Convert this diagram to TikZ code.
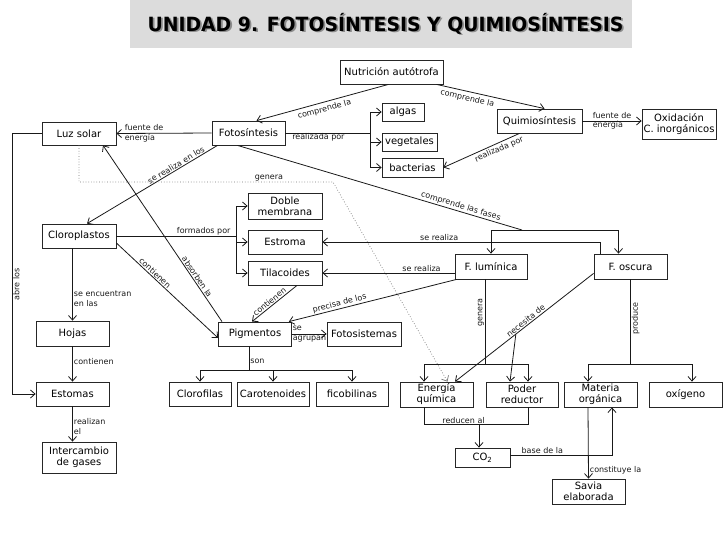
\documentclass[tikz,border=0pt]{standalone}
\usepackage{fontspec}
\setmainfont{DejaVu Sans}
\usetikzlibrary{arrows.meta,calc}
\definecolor{titlebg}{RGB}{220,220,220}
\begin{document}
\begin{tikzpicture}[x=1pt,y=-1pt,
  box/.style={draw=black!85,line width=0.8pt,inner sep=1pt,align=center,
    font=\fontsize{10}{11}\selectfont},
  lab/.style={font=\fontsize{8}{9.5}\selectfont,text=black!90,inner sep=1pt},
  conn/.style={line width=0.8pt,draw=black!90},
  arr/.style={conn,-{Straight Barb[length=4.5pt,width=8pt]}},
  dotc/.style={dotted,line width=0.7pt,draw=black!55,-{Straight Barb[length=4.5pt,width=8pt]}},
  titfont/.style={font=\fontsize{19.6}{21}\selectfont\bfseries,xscale=0.96,transform shape},
]
\useasboundingbox (0,0) rectangle (728,546);
\fill[titlebg] (130,0) rectangle (632,48);
\node[titfont,text=black!45] (titsh) at (387.3,25.3) {UNIDAD 9. FOTOSÍNTESIS Y QUIMIOSÍNTESIS};
\node[titfont,text=black] (tit) at (385.5,23.5) {UNIDAD 9. FOTOSÍNTESIS Y QUIMIOSÍNTESIS};

% boxes
\node[box,minimum width=103pt,minimum height=24pt] (nut) at (391.5,72) {Nutrición autótrofa};
\node[box,minimum width=42pt,minimum height=18pt] (algas) at (403,112) {algas};
\node[box,minimum width=55pt,minimum height=18pt] (veg) at (409.5,142) {vegetales};
\node[box,minimum width=61pt,minimum height=19pt] (bact) at (412.5,167.5) {bacterias};
\node[box,minimum width=73pt,minimum height=24pt] (foto) at (248.5,133) {Fotosíntesis};
\node[box,minimum width=74pt,minimum height=23pt] (luz) at (79,133.5) {Luz solar};
\node[box,minimum width=85pt,minimum height=24pt] (quim) at (539.5,121) {Quimiosíntesis};
\node[box,minimum width=74pt,minimum height=30pt] (oxi) at (679,124) {Oxidación\\C. inorgánicos};
\node[box,minimum width=74pt,minimum height=24pt] (cloro) at (79,236) {Cloroplastos};
\node[box,minimum width=73pt,minimum height=25pt] (hojas) at (72.5,333.5) {Hojas};
\node[box,minimum width=73pt,minimum height=24pt] (estom) at (72.5,394) {Estomas};
\node[box,minimum width=74pt,minimum height=31pt] (inter) at (79,457.5) {Intercambio\\de gases};
\node[box,minimum width=74pt,minimum height=26pt] (doble) at (285,206) {Doble\\membrana};
\node[box,minimum width=74pt,minimum height=24pt] (estroma) at (285,242) {Estroma};
\node[box,minimum width=74pt,minimum height=24pt] (tila) at (285,273) {Tilacoides};
\node[box,minimum width=73pt,minimum height=24pt] (pig) at (255,334) {Pigmentos};
\node[box,minimum width=74pt,minimum height=24pt] (fsis) at (364,334) {Fotosistemas};
\node[box,minimum width=72pt,minimum height=25pt] (flum) at (491,266.5) {F. lumínica};
\node[box,minimum width=73pt,minimum height=25pt] (fosc) at (630.5,266.5) {F. oscura};
\node[box,minimum width=62pt,minimum height=24pt] (clorof) at (200,394) {Clorofilas};
\node[box,minimum width=72pt,minimum height=24pt] (carot) at (273,394) {Carotenoides};
\node[box,minimum width=72pt,minimum height=24pt] (ficob) at (352,394) {ficobilinas};
\node[box,minimum width=73pt,minimum height=25pt] (energ) at (436.5,394.5) {Energía\\química};
\node[box,minimum width=72pt,minimum height=25pt] (poder) at (522,394.5) {Poder\\reductor};
\node[box,minimum width=73pt,minimum height=25pt] (mat) at (600.5,394.5) {Materia\\orgánica};
\node[box,minimum width=73pt,minimum height=25pt] (oxig) at (685.5,394.5) {oxígeno};
\node[box,minimum width=55pt,minimum height=19pt] (co2) at (482.5,457.5) {CO\textsubscript{2}};
\node[box,minimum width=73pt,minimum height=25pt] (savia) at (588.5,491.5) {Savia\\elaborada};

% connectors
\draw[arr] ([xshift=-3pt]nut.south) -- node[lab,sloped,below=2pt]{comprende la} ([xshift=8pt]foto.north);
\draw[arr] ([xshift=45pt]nut.south) -- node[lab,sloped,below=2pt,pos=0.3]{comprende la} ([xshift=5pt]quim.north);
\draw[arr] (foto.west) -- node[lab,align=left,anchor=west,pos=1,xshift=7pt]{fuente de\\energía} (luz.east);

\coordinate (rp) at (370,133);
\draw[conn] (foto.east) -- node[lab,below,pos=0.39,inner sep=0.5pt]{realizada por} (rp);
\draw[arr] (rp) |- (algas.west);
\draw[arr] (rp) |- (veg.west);
\draw[arr] (rp) |- (bact.west);

\draw[arr] (quim.east) -- node[lab,align=left,anchor=west,pos=0,xshift=9pt]{fuente de\\energía} (quim.east -| oxi.west);
\draw[arr] ([xshift=-20pt]quim.south) -- node[lab,sloped,below=1pt,pos=0.3]{realizada por} (bact.east);

\draw[arr] ([xshift=-31pt]foto.south) -- node[lab,sloped,above,pos=0.3]{se realiza en los} ([xshift=8pt]cloro.north);
\draw[arr] ([xshift=-33pt]pig.north) -- node[lab,sloped,above,pos=0.24]{absorben la} ([xshift=24pt]luz.south);
\draw[arr] ([yshift=-7pt]cloro.east) -- node[lab,sloped,above,pos=0.35]{contienen} ([yshift=-4pt]pig.west);

\coordinate (fp) at (236,236);
\draw[conn] (cloro.east) -- node[lab,above,pos=0.73,inner sep=0.5pt]{formados por} (fp);
\draw[arr] (fp) |- (doble.west);
\draw[arr] (fp) |- (estroma.west);
\draw[arr] (fp) |- (tila.west);

\draw[arr] ([xshift=-6.5pt]cloro.south) -- node[lab,align=left,right,pos=0.7]{se encuentran\\en las} (hojas.north);
\draw[arr] (hojas.south) -- node[lab,right,pos=0.44]{contienen} (estom.north);
\draw[arr] (estom.south) -- node[lab,right,align=left,pos=0.57]{realizan\\el} ([xshift=-6.5pt]inter.north);

\coordinate (abre) at (12,133.5);
\draw[arr] (luz.west) -- (abre) |- node[lab,rotate=90,anchor=north,pos=0.29]{abre los} (estom.west);

\coordinate (gen) at (333,182);
\draw[dotc] (luz.south) |- node[lab,above,pos=0.874,inner sep=0.5pt]{genera} (gen) -- ([xshift=11pt]energ.north);

\coordinate (cf) at (522,230);
\draw[conn] ([xshift=-11pt]foto.south) -- node[lab,sloped,above,pos=0.78]{comprende las fases} (cf);
\draw[arr] (cf) -| (flum.north);
\draw[arr] (cf) -| ([xshift=-12pt]fosc.north);

\draw[arr] ([xshift=-30pt]fosc.north) |- node[lab,above,pos=0.79,inner sep=0.5pt]{se realiza} (estroma.east);
\draw[arr] ([yshift=-6.5pt]flum.west) -- node[lab,above,pos=0.25,inner sep=0.5pt]{se realiza} (tila.east);
\draw[arr] ([xshift=2pt]flum.south west) -- node[lab,sloped,above,pos=0.69]{precisa de los} ([xshift=-3pt]pig.north east);
\draw[arr] ([xshift=12pt]tila.south) -- node[lab,sloped,above,pos=0.55]{contienen} ([xshift=-3pt]pig.north);
\draw[arr] (pig.east) -- node[lab,align=left,anchor=west,pos=0,inner sep=0.5pt]{se\\agrupan} (fsis.west);

\draw[conn] ([xshift=-6pt]pig.south) -- node[lab,right,pos=0.62]{son} ++(0,24) coordinate (son);
\draw[arr] (son) -| (clorof.north);
\draw[arr] (son) -| (carot.north);
\draw[arr] (son) -| (ficob.north);

\draw[conn] ([xshift=-6pt]flum.south) -- node[lab,rotate=90,anchor=south,pos=0.39,inner sep=0.5pt]{genera} ++(0,85) coordinate (gen2);
\draw[arr] (gen2) -| ([xshift=-12.5pt]energ.north);
\draw[arr] (gen2) -| ([xshift=6pt]poder.north);

\draw[arr] ([yshift=6pt]fosc.south west) -- coordinate[pos=0.561] (nd) node[lab,sloped,above,pos=0.47]{necesita de} ([xshift=18.5pt]energ.north);
\draw[arr] (nd) -- ([xshift=-12pt]poder.north);

\draw[conn] (fosc.south) -- node[lab,rotate=90,anchor=north,pos=0.46]{produce} ++(0,85) coordinate (prod);
\draw[arr] (prod) -| ([xshift=-12.5pt]mat.north);
\draw[arr] (prod) -| ([xshift=6.5pt]oxig.north);

\draw[conn] ([xshift=-12.5pt]energ.south) -- ++(0,17) coordinate (r1) -| node[lab,above,pos=0.19,inner sep=0.5pt]{reducen al} ([xshift=6pt]poder.south);
\coordinate (co2t) at ([xshift=-3.5pt]co2.north);
\draw[arr] (co2t |- r1) -- (co2t);

\draw[arr] ([yshift=2.5pt]co2.east) -| node[lab,above,pos=0.157,inner sep=0.5pt]{base de la} ([xshift=11.5pt]mat.south);
\draw[arr] ([xshift=-12.5pt]mat.south) -- node[lab,right,pos=0.89]{constituye la} (savia.north);
\end{tikzpicture}
\end{document}
